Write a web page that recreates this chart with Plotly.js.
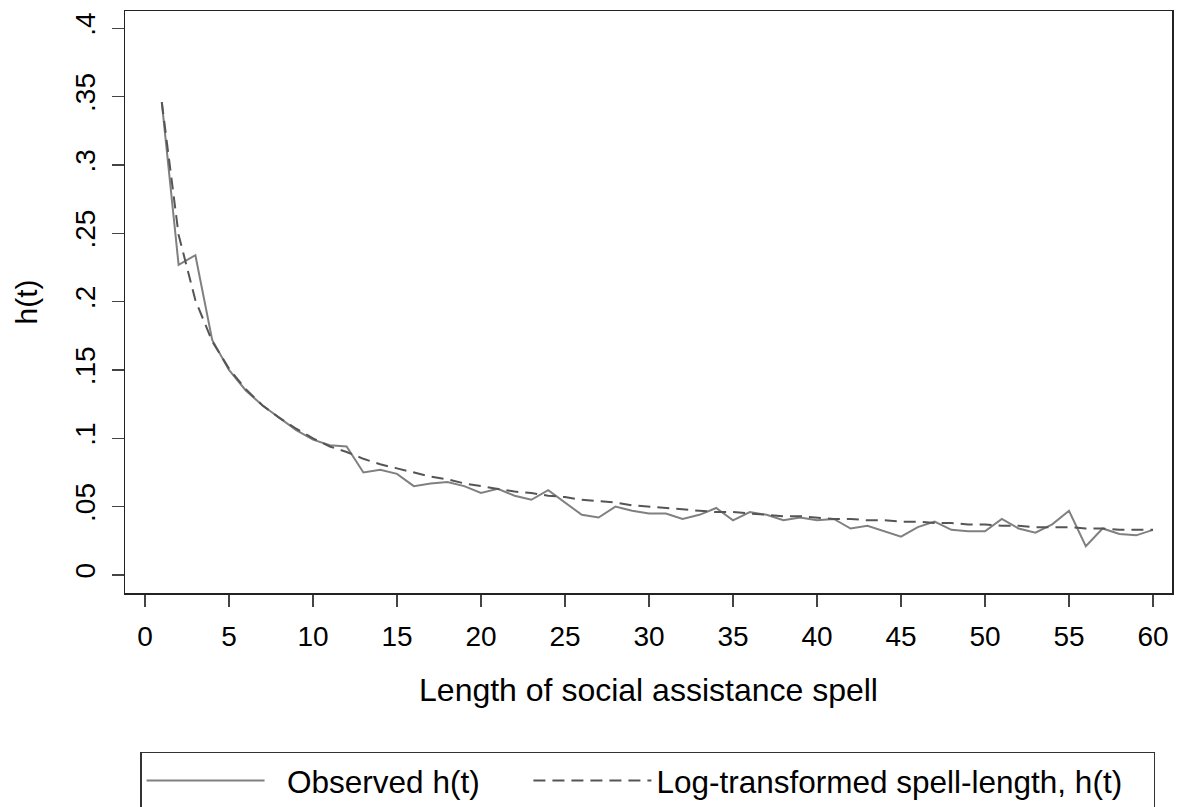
<!DOCTYPE html>
<html>
<head>
<meta charset="utf-8">
<script src="https://cdn.plot.ly/plotly-3.0.1.min.js"></script>
<style>html,body{margin:0;padding:0;background:#fff;}#chart{width:1177px;height:807px;}</style>
</head>
<body>
<div id="chart"></div>
<script>
const spellLength = [1,2,3,4,5,6,7,8,9,10,11,12,13,14,15,16,17,18,19,20,21,22,23,24,25,26,27,28,29,30,31,32,33,34,35,36,37,38,39,40,41,42,43,44,45,46,47,48,49,50,51,52,53,54,55,56,57,58,59,60];
const observedH = [0.346,0.227,0.234,0.172,0.150,0.135,0.124,0.115,0.106,0.099,0.095,0.094,0.075,0.077,0.074,0.065,0.067,0.068,0.065,0.060,0.063,0.058,0.055,0.062,0.053,0.044,0.042,0.050,0.047,0.045,0.045,0.041,0.044,0.049,0.040,0.046,0.044,0.040,0.042,0.040,0.041,0.034,0.036,0.032,0.028,0.035,0.039,0.033,0.032,0.032,0.041,0.034,0.031,0.037,0.047,0.021,0.034,0.030,0.029,0.033];
const logFitH = [0.346,0.249,0.201,0.171,0.151,0.136,0.124,0.115,0.107,0.100,0.094,0.090,0.085,0.081,0.078,0.075,0.072,0.070,0.067,0.065,0.063,0.061,0.060,0.058,0.057,0.055,0.054,0.053,0.051,0.050,0.049,0.048,0.047,0.046,0.046,0.045,0.044,0.043,0.043,0.042,0.041,0.041,0.040,0.040,0.039,0.039,0.038,0.038,0.037,0.037,0.036,0.036,0.035,0.035,0.035,0.034,0.034,0.033,0.033,0.033];
const xTickVals = [0,5,10,15,20,25,30,35,40,45,50,55,60];
const yTickVals = [0,0.05,0.1,0.15,0.2,0.25,0.3,0.35,0.4];
const yTickText = ["0",".05",".1",".15",".2",".25",".3",".35",".4"];
const seriesNames = ["Observed h(t)", "Log-transformed spell-length, h(t)"];
const xTitle = "Length of social assistance spell";
const yTitle = "h(t)";

const FONT = "Liberation Sans, Arial, sans-serif";
const NB = '\u00A0';
const traces = [
  {x: spellLength, y: observedH, type: 'scatter', mode: 'lines',
   name: NB + NB + seriesNames[0] + NB.repeat(5),
   line: {color: '#808080', width: 2}},
  {x: spellLength, y: logFitH, type: 'scatter', mode: 'lines',
   name: seriesNames[1] + NB.repeat(3),
   line: {color: '#555555', width: 2, dash: '12px,7px'}}
];
const layout = {
  width: 1177, height: 807,
  margin: {l: 125, r: 5, t: 11, b: 214, pad: 0, autoexpand: false},
  paper_bgcolor: '#fff', plot_bgcolor: '#fff',
  font: {family: FONT, size: 28, color: '#000'},
  showlegend: true,
  xaxis: {
    range: [-1.19, 61.13], tickvals: xTickVals, ticks: 'outside', ticklen: 12, tickwidth: 1.5,
    tickcolor: '#444', showline: true, linecolor: '#222', linewidth: 1.5, mirror: true,
    showgrid: false, zeroline: false, ticklabelstandoff: 6,
    tickfont: {family: FONT, size: 28, color: '#000'},
    title: {text: xTitle, font: {family: FONT, size: 32, color: '#000'}, standoff: 27}
  },
  yaxis: {
    range: [-0.0132, 0.4127], tickvals: yTickVals, ticktext: yTickText, tickangle: -90,
    ticks: 'outside', ticklen: 12, tickwidth: 1.5, tickcolor: '#444',
    showline: true, linecolor: '#222', linewidth: 1.5, mirror: true,
    showgrid: false, zeroline: false, ticklabelstandoff: 5,
    tickfont: {family: FONT, size: 28, color: '#000'},
    title: {text: yTitle, font: {family: FONT, size: 30, color: '#000'}, standoff: 24}
  },
  legend: {
    orientation: 'h', xref: 'container', yref: 'container',
    x: 0.119, xanchor: 'left', y: 0.0682, yanchor: 'top',
    bordercolor: '#333', borderwidth: 1.5, bgcolor: '#fff',
    font: {family: FONT, size: 31.5, color: '#000'},
    itemwidth: 118, traceorder: 'normal'
  }
};
Plotly.newPlot('chart', traces, layout, {staticPlot: true, displayModeBar: false});
</script>
</body>
</html>
